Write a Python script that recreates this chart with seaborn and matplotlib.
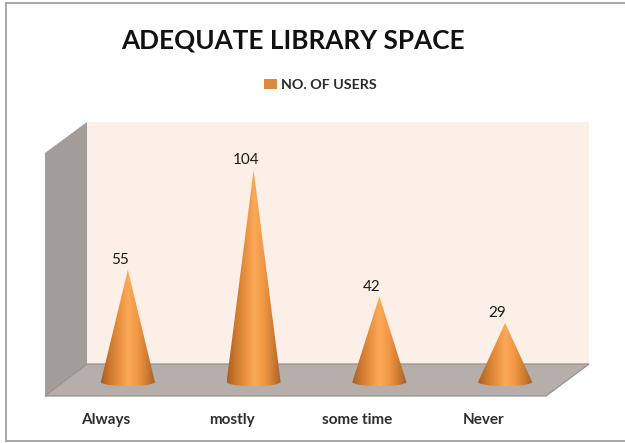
import numpy as np
import pandas as pd
import seaborn as sns
import matplotlib.pyplot as plt
from matplotlib.colors import LinearSegmentedColormap
from matplotlib.patches import Polygon, Rectangle
from matplotlib.path import Path
from matplotlib.transforms import ScaledTranslation

categories = ['Always', 'mostly', 'some time', 'Never']
users = [55, 104, 42, 29]
series_name = 'NO. OF USERS'
title = 'ADEQUATE LIBRARY SPACE'

sns.set_theme(style='white')
plt.rcParams['font.family'] = ['Lato', 'DejaVu Sans']

W, H = 625, 443
fig = plt.figure(figsize=(W / 100, H / 100), dpi=100, facecolor='white')

# backdrop in pixel coordinates: frame, walls and floor of the fake 3d box
bg = fig.add_axes([0, 0, 1, 1])
bg.set_xlim(0, W)
bg.set_ylim(H, 0)
bg.axis('off')
bg.add_patch(Rectangle((6, 3), 640, 438, fc='white', ec='#a0a0a0', lw=1.3))
bg.add_patch(Polygon([(87, 122), (589, 122), (589, 364), (87, 364)], fc='#fcefe8', ec='none'))
bg.add_patch(Polygon([(45, 153), (87, 122), (87, 364), (45, 396)], fc='#a39d9a', ec='none'))
bg.add_patch(Polygon([(87, 364), (589, 364), (546, 396), (45, 396)], fc='#b6aeaa', ec='#98928e', lw=0.9))

# data axes: 0 sits on the cone base line, 2.04 px per user
left, right = 65, 568
base_y, top_y = 382, 122
ax = fig.add_axes([left / W, (H - base_y) / H, (right - left) / W, (base_y - top_y) / H])
ax.patch.set_alpha(0)

df = pd.DataFrame({'answer': categories, 'users': users})
sns.barplot(data=df, x='answer', y='users', color='#dd8a3c', saturation=1, width=0.43,
            label=series_name, ax=ax)

leg = ax.legend(loc='center', bbox_to_anchor=(320.5 / W, (H - 85) / H), bbox_transform=fig.transFigure,
                frameon=False, handlelength=0.85, handleheight=0.7, handletextpad=0.3,
                prop={'weight': 'bold', 'size': 10.3}, labelcolor='#2a2a2a')
leg.legend_handles[0].set_edgecolor('none')

cone_cmap = LinearSegmentedColormap.from_list(
    'cone', ['#a85e20', '#cf7a30', '#ea9140', '#fbaa58', '#f29846', '#d27d32', '#a2602a'])
gradient = np.linspace(0, 1, 128).reshape(1, -1)

ax.set_xlim(-0.5, 3.5)
ax.set_ylim(0, 127.5)

# each bar is turned into a cone: same centre, width and height
base_r = 2.0
for bar, val in zip(ax.containers[0], users):
    x0, w = bar.get_x(), bar.get_width()
    xc = x0 + w / 2
    t = np.linspace(np.pi, 2 * np.pi, 40)
    outline = [(xc, val)] + list(zip(xc + w / 2 * np.cos(t), base_r * np.sin(t)))
    im = ax.imshow(gradient, extent=(x0, x0 + w, -base_r, val), aspect='auto', cmap=cone_cmap,
                   zorder=3)
    im.set_clip_box(fig.bbox)
    im.set_clip_path(Path(outline + [outline[0]]), ax.transData)
    bar.set_visible(False)
    ax.annotate(str(val), (xc, val), xytext=(-8 * 0.72, 2), textcoords='offset points',
                ha='center', va='bottom', fontsize=11, color='#1a1a1a', zorder=4)

ax.set_xlim(-0.5, 3.5)
ax.set_ylim(0, 127.5)
sns.despine(ax=ax, left=True, bottom=True, top=True, right=True)
ax.set_xlabel('')
ax.set_ylabel('')
ax.set_yticks([])
ax.set_xticks(range(len(categories)))
ax.set_xticklabels(categories, fontsize=11, color='#2e2e2e', fontweight='bold')
ax.tick_params(axis='x', length=0, pad=22.5)
# labels belong to the front edge of the floor, not the back
shift = ScaledTranslation(-22 / 100, 0, fig.dpi_scale_trans)
for lab in ax.get_xticklabels():
    lab.set_transform(lab.get_transform() + shift)

fig.text(293 / W, (H - 41) / H, title, ha='center', va='center', fontsize=18.8,
         fontweight='bold', color='#111111')

fig.savefig('out.png', dpi=100)
